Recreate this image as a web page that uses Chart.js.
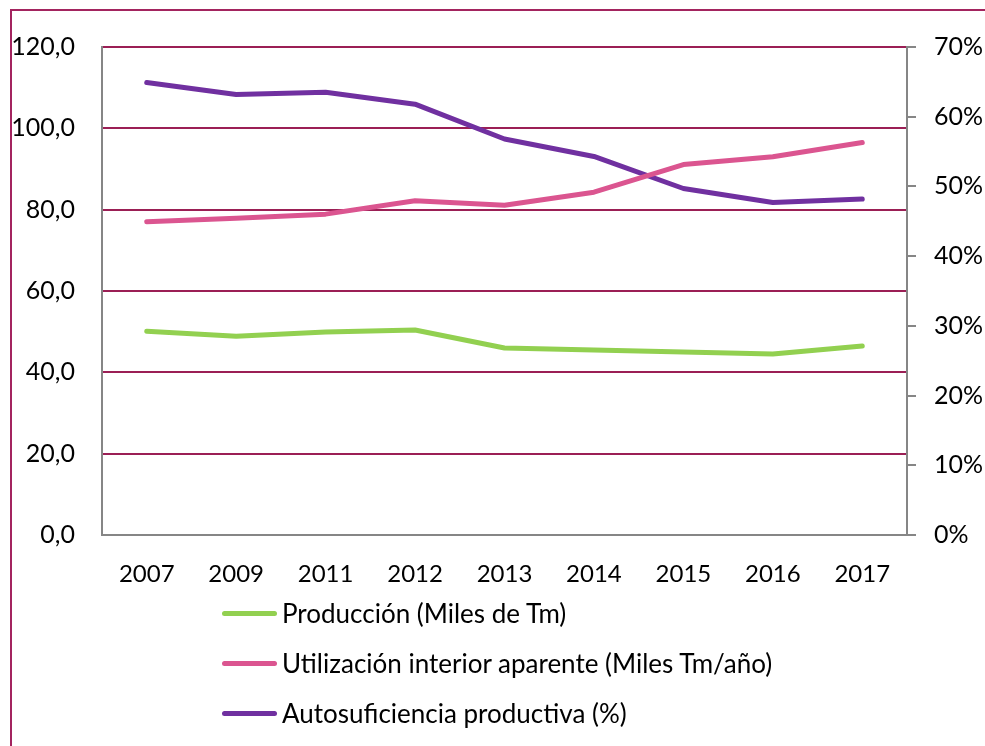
<!DOCTYPE html>
<html>
<head>
<meta charset="utf-8">
<script src="https://cdn.jsdelivr.net/npm/chart.js@4/dist/chart.umd.min.js"></script>
<style>
  html, body { margin: 0; padding: 0; background: #fff; overflow: hidden; }
  #wrap { position: relative; width: 985px; height: 746px; }
  #frame {
    position: absolute; left: 10px; top: 9px; width: 1100px; height: 900px;
    border: 2px solid #a3245f; pointer-events: none; box-sizing: border-box;
  }
  #legend { position: absolute; left: 222px; top: 588px; font-family: Lato, sans-serif; font-size: 26px; color: #000; }
  .item { display: flex; align-items: center; height: 50px; }
  .swatch { width: 55px; height: 5px; border-radius: 3px; margin-right: 5px; }
</style>
</head>
<body>
<div id="wrap">
  <canvas id="chart" width="985" height="746"></canvas>
  <div id="frame"></div>
  <div id="legend"></div>
</div>
<script>
// Categories and series
const years = ["2007", "2009", "2011", "2012", "2013", "2014", "2015", "2016", "2017"];
const produccion = [50.1, 48.9, 49.9, 50.4, 46.0, 45.5, 45.0, 44.5, 46.5];
const utilizacion = [77.0, 77.9, 78.9, 82.2, 81.1, 84.3, 91.1, 93.0, 96.5];
const autosuficiencia = [64.9, 63.2, 63.5, 61.8, 56.8, 54.3, 49.7, 47.7, 48.2];

const seriesNames = [
  "Producción (Miles de Tm)",
  "Utilización interior aparente (Miles Tm/año)",
  "Autosuficiencia productiva (%)"
];
const seriesColors = ["#92d050", "#db5590", "#7030a0"];

const FONT = { family: "Lato", size: 25 };
const GRID = "#9b1f55";
const AXIS = "#868686";

function lineSet(i, data, axis) {
  return {
    label: seriesNames[i],
    data: data,
    yAxisID: axis,
    borderColor: seriesColors[i],
    backgroundColor: seriesColors[i],
    borderWidth: 5,
    borderCapStyle: "round",
    borderJoinStyle: "round",
    pointRadius: 0,
    tension: 0,
    fill: false
  };
}

const ctx = document.getElementById("chart").getContext("2d");
const chart = new Chart(ctx, {
  type: "line",
  data: {
    labels: years,
    datasets: [
      lineSet(0, produccion, "y"),
      lineSet(1, utilizacion, "y"),
      lineSet(2, autosuficiencia, "y1")
    ]
  },
  options: {
    responsive: false,
    animation: false,
    layout: { padding: { top: 47, bottom: 161, left: 0, right: 0 } },
    scales: {
      x: {
        offset: true,
        grid: { display: false, drawTicks: false },
        border: { color: AXIS, width: 2 },
        ticks: { color: "#000", font: { family: "Lato", size: 24 }, padding: 25, maxRotation: 0 },
        afterFit: s => { s.height = 50; }
      },
      y: {
        position: "left",
        min: 0, max: 120,
        grid: { color: GRID, lineWidth: 2, drawTicks: false },
        border: { color: AXIS, width: 2 },
        ticks: {
          stepSize: 20, color: "#000", font: FONT, padding: 27,
          callback: v => v.toFixed(1).replace(".", ",")
        },
        afterFit: s => { s.width = 102; }
      },
      y1: {
        position: "right",
        min: 0, max: 70,
        grid: { drawOnChartArea: false, color: AXIS, lineWidth: 2, tickLength: 9 },
        border: { color: AXIS, width: 2 },
        ticks: {
          stepSize: 10, color: "#000", font: FONT, padding: 18,
          callback: v => v + "%"
        },
        afterFit: s => { s.width = 78; }
      }
    },
    plugins: {
      legend: { display: false },
      tooltip: { enabled: false }
    }
  }
});

// HTML legend in a vertical list, built from the datasets
const legend = document.getElementById("legend");
chart.data.datasets.forEach(ds => {
  const row = document.createElement("div");
  row.className = "item";
  const sw = document.createElement("span");
  sw.className = "swatch";
  sw.style.background = ds.borderColor;
  const txt = document.createElement("span");
  txt.textContent = ds.label;
  row.appendChild(sw);
  row.appendChild(txt);
  legend.appendChild(row);
});
</script>
</body>
</html>
